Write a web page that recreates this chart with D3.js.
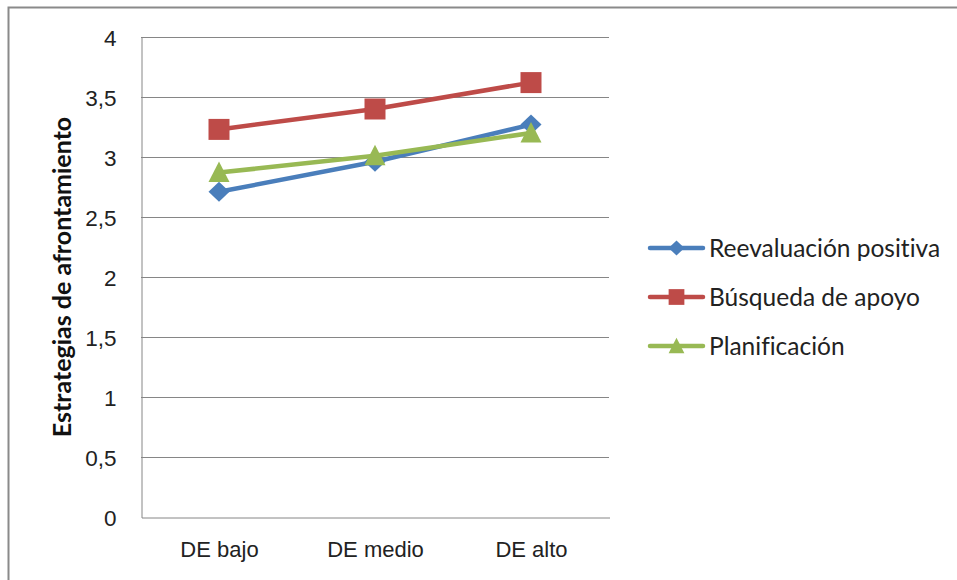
<!DOCTYPE html>
<html>
<head>
<meta charset="utf-8">
<script src="https://cdn.jsdelivr.net/npm/d3@7/dist/d3.min.js"></script>
<style>
  html, body { margin: 0; padding: 0; background: #fff; }
  svg { display: block; font-family: Lato, "Open Sans", sans-serif; font-variant-ligatures: none; }
</style>
</head>
<body>
<svg id="chart" width="957" height="580"></svg>
<script>
// Coping strategy scores by emotional-dysregulation level
const categories = ["DE bajo", "DE medio", "DE alto"];
const seriesNames = ["Reevaluación positiva", "Búsqueda de apoyo", "Planificación"];
const reevaluacion = [2.71, 2.96, 3.27];
const busqueda = [3.23, 3.40, 3.62];
const planificacion = [2.87, 3.01, 3.20];
const yTicks = [0, 0.5, 1, 1.5, 2, 2.5, 3, 3.5, 4];
const yTitle = "Estrategias de afrontamiento";

const colors = ["#4a7ebb", "#be4b48", "#98b954"];
const seriesValues = [reevaluacion, busqueda, planificacion];

// marker outlines, scaled by k
const markerPath = (s, k) => {
  if (s === 0) return `M0,${-10 * k}L${10.5 * k},0L0,${10 * k}L${-10.5 * k},0Z`;
  if (s === 1) return `M${-10.5 * k},${-10.5 * k}h${21 * k}v${21 * k}h${-21 * k}Z`;
  return `M0,${-11 * k}L${10.5 * k},${9.5 * k}L${-10.5 * k},${9.5 * k}Z`;
};

const svg = d3.select("#chart");

// outer chart frame
svg.append("rect")
  .attr("x", 8.5).attr("y", 7.5)
  .attr("width", 960).attr("height", 600)
  .attr("fill", "#fff").attr("stroke", "#8a8a8a").attr("stroke-width", 2);

const plot = { left: 141, right: 609, top: 37, bottom: 517 };

const x = d3.scaleBand().domain(categories).range([plot.left, plot.right]);
const y = d3.scaleLinear().domain([0, 4]).range([plot.bottom, plot.top]);

// horizontal gridlines
svg.append("g").selectAll("line").data(yTicks.filter(t => t > 0)).join("line")
  .attr("x1", plot.left).attr("x2", plot.right)
  .attr("y1", d => Math.round(y(d)) + 0.5).attr("y2", d => Math.round(y(d)) + 0.5)
  .attr("stroke", "#868686").attr("stroke-width", 1);

// axes
const fmt = d => String(d).replace(".", ",");
const yAxis = svg.append("g")
  .attr("transform", `translate(${plot.left + 0.5},0.5)`)
  .call(d3.axisLeft(y).tickValues(yTicks).tickFormat(fmt).tickSize(0).tickPadding(25));
yAxis.select(".domain").attr("stroke", "#868686");
yAxis.selectAll("text").attr("font-size", 22.5).attr("fill", "#222").attr("dy", "0.35em");

const xAxis = svg.append("g")
  .attr("transform", `translate(0.5,${plot.bottom + 0.5})`)
  .call(d3.axisBottom(x).tickSize(0).tickPadding(24));
xAxis.select(".domain").attr("stroke", "#868686");
xAxis.selectAll("text").attr("font-size", 22).attr("fill", "#222");

// y axis title
svg.append("text")
  .attr("transform", `translate(71,${(plot.top + plot.bottom) / 2}) rotate(-90)`)
  .attr("text-anchor", "middle")
  .attr("font-size", 25).attr("font-weight", "bold").attr("fill", "#111")
  .text(yTitle);

// series lines and markers
const line = d3.line()
  .x((d, i) => x(categories[i]) + x.bandwidth() / 2)
  .y(d => y(d));

seriesValues.forEach((vals, s) => {
  const g = svg.append("g");
  g.append("path").datum(vals)
    .attr("d", line)
    .attr("fill", "none").attr("stroke", colors[s]).attr("stroke-width", 4.5)
    .attr("stroke-linejoin", "round");
  g.selectAll("path.m").data(vals).join("path")
    .attr("class", "m")
    .attr("transform", (d, i) => `translate(${x(categories[i]) + x.bandwidth() / 2},${y(d)})`)
    .attr("d", markerPath(s, 1))
    .attr("fill", colors[s]);
});

// legend
const legend = svg.append("g");
const legendY = [248, 297, 346];
seriesNames.forEach((name, s) => {
  const row = legend.append("g").attr("transform", `translate(650,${legendY[s]})`);
  row.append("line").attr("x1", 0).attr("x2", 53).attr("y1", 0).attr("y2", 0)
    .attr("stroke", colors[s]).attr("stroke-width", 4.5).attr("stroke-linecap", "round");
  row.append("path")
    .attr("transform", "translate(26.5,0)")
    .attr("d", markerPath(s, 0.75))
    .attr("fill", colors[s]);
  row.append("text").attr("x", 59).attr("y", 0).attr("dy", "0.35em")
    .attr("font-size", 24.5).attr("fill", "#222").text(name);
});
</script>
</body>
</html>
